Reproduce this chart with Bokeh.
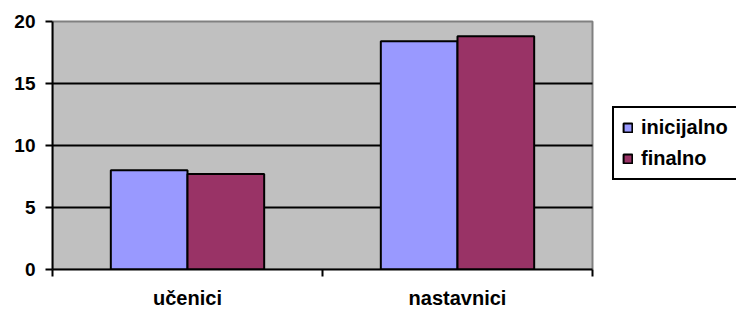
import numpy as np
from bokeh.plotting import figure
from bokeh.models import (ColumnDataSource, FixedTicker, Range1d, Legend,
                          LegendItem, BoxAnnotation)
from bokeh.embed import file_html
from bokeh.resources import INLINE

categories = ["učenici", "nastavnici"]
inicijalno = [8.0, 18.4]
finalno = [7.7, 18.8]
y_ticks = [0, 5, 10, 15, 20]

FONT = "Liberation Sans"
BAR_W = 0.284
OFF = 0.142

# layout: plot area 540 px wide, frame extends to the right edge (684 px)
PLOT_W, FRAME_W = 540, 684
PLOT_H, FRAME_H = 250, 252
n = len(categories)
ymax = y_ticks[-1]

idx = np.arange(n) + 0.5
src = ColumnDataSource(dict(
    x1=idx - OFF, x2=idx + OFF, ini=inicijalno, fin=finalno))

inner = y_ticks[1:-1]
grid_src = ColumnDataSource(dict(x0=[0] * len(inner), x1=[n] * len(inner),
                                 y=inner))

p = figure(width=736, height=311, output_backend="svg", toolbar_location=None,
           x_range=Range1d(0, n * FRAME_W / PLOT_W),
           y_range=Range1d(0, ymax * FRAME_H / PLOT_H),
           min_border_left=52, min_border_right=0, min_border_top=19,
           min_border_bottom=40)
p.border_fill_color = "white"
p.background_fill_color = "white"
p.outline_line_color = None

plot_area = BoxAnnotation(left=0, right=n, bottom=0, top=ymax,
                          fill_color="#C0C0C0", fill_alpha=1,
                          line_color="#808080", line_alpha=1, line_width=2,
                          level="underlay")
p.add_layout(plot_area)

# horizontal grid lines limited to the plot area
p.xgrid.visible = False
p.ygrid.visible = False
p.segment(x0="x0", x1="x1", y0="y", y1="y", source=grid_src,
          line_color="black", line_width=2)

r1 = p.vbar(x="x1", top="ini", width=BAR_W, source=src, fill_color="#9999FF",
            line_color="black", line_width=2)
r2 = p.vbar(x="x2", top="fin", width=BAR_W, source=src, fill_color="#993366",
            line_color="black", line_width=2)

# y axis
p.yaxis.ticker = FixedTicker(ticks=y_ticks)
p.yaxis.bounds = (0, ymax)
p.yaxis.axis_line_color = "black"
p.yaxis.axis_line_width = 2
p.yaxis.major_tick_line_width = 2
p.yaxis.major_tick_out = 7
p.yaxis.major_tick_in = 0
p.yaxis.minor_tick_line_color = None
p.yaxis.major_label_standoff = 10
p.yaxis.major_label_text_font = FONT
p.yaxis.major_label_text_font_style = "bold"
p.yaxis.major_label_text_font_size = "19px"
p.yaxis.major_label_text_color = "black"

# x axis
p.xaxis.ticker = FixedTicker(ticks=list(idx), minor_ticks=list(range(n + 1)))
p.xaxis.bounds = (0, n)
p.xaxis.major_label_overrides = {float(v): c for v, c in zip(idx, categories)}
p.xaxis.axis_line_color = "black"
p.xaxis.axis_line_width = 2
p.xaxis.major_tick_line_color = None
p.xaxis.major_tick_out = 0
p.xaxis.major_tick_in = 0
p.xaxis.minor_tick_line_color = "black"
p.xaxis.minor_tick_line_width = 2
p.xaxis.minor_tick_out = 7
p.xaxis.minor_tick_in = 0
p.xaxis.major_label_standoff = 10
p.xaxis.major_label_text_font = FONT
p.xaxis.major_label_text_font_style = "bold"
p.xaxis.major_label_text_font_size = "20px"
p.xaxis.major_label_text_color = "black"

legend = Legend(items=[LegendItem(label="inicijalno", renderers=[r1]),
                       LegendItem(label="finalno", renderers=[r2])],
                location=(560, 89), orientation="vertical")
legend.border_line_color = "black"
legend.border_line_alpha = 1
legend.border_line_width = 2
legend.background_fill_color = "white"
legend.background_fill_alpha = 1
legend.padding = 8
legend.margin = 0
legend.spacing = 8
legend.glyph_width = 11
legend.glyph_height = 11
legend.label_standoff = 8
legend.label_text_font = FONT
legend.label_text_font_style = "bold"
legend.label_text_font_size = "20px"
legend.label_text_color = "black"
p.add_layout(legend, "center")

open("out.html", "w").write(file_html(p, INLINE))
